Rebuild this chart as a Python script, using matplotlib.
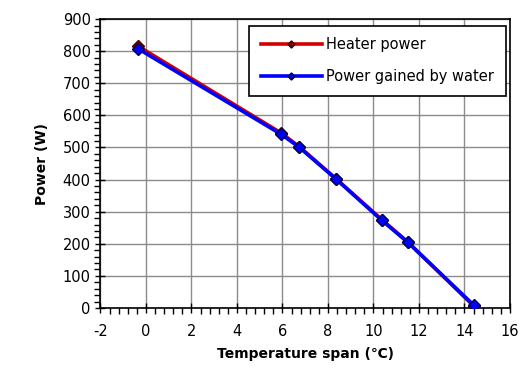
import matplotlib
matplotlib.use("Agg")
import matplotlib.pyplot as plt
from matplotlib.ticker import MultipleLocator

# Data
temp_span = [-0.35, 5.95, 6.75, 8.35, 10.37, 11.52, 14.42]
heater_power = [816, 545, 502, 403, 275, 205, 5]
water_power = [808, 541, 500, 402, 273, 204, 8]

x_ticks = [-2, 0, 2, 4, 6, 8, 10, 12, 14, 16]
y_ticks = [0, 100, 200, 300, 400, 500, 600, 700, 800, 900]

plt.rcParams['font.family'] = ['DejaVu Sans']
plt.rcParams['axes.unicode_minus'] = False

fig = plt.figure(figsize=(5.23, 3.83), dpi=100)
ax = fig.add_axes([0.192, 0.196, 0.783, 0.754])

ax.plot(temp_span, heater_power, color="#d40000", lw=2.6, marker="D", ms=6,
        mfc="#8b0000", mec="#400000", label="Heater power", zorder=3)
ax.plot(temp_span, water_power, color="#0000ff", lw=2.6, marker="D", ms=6,
        mfc="#0000ff", mec="#000050", label="Power gained by water", zorder=4)

ax.set_xlim(-2, 16)
ax.set_ylim(0, 900)
ax.set_xticks(x_ticks)
ax.set_yticks(y_ticks)
ax.xaxis.set_minor_locator(MultipleLocator(0.4))
ax.yaxis.set_minor_locator(MultipleLocator(20))
ax.tick_params(which="major", direction="inout", length=7, width=1, labelsize=10.5)
ax.tick_params(which="minor", direction="out", length=4, width=1)
ax.tick_params(axis="x", pad=8)
ax.grid(True, which="major", color="#8c8c8c", lw=1)
ax.set_axisbelow(True)
for s in ax.spines.values():
    s.set_color("black")
    s.set_linewidth(1.2)

ax.set_xlabel("Temperature span (℃)", fontsize=10, fontweight="bold", labelpad=6)
ax.set_ylabel("Power (W)", fontsize=10, fontweight="bold", labelpad=10)

leg = ax.legend(loc="upper right", bbox_to_anchor=(0.99, 0.978), fontsize=10.5,
                fancybox=False, framealpha=1, edgecolor="black",
                markerscale=0.6, handlelength=4.2, handletextpad=0.3,
                labelspacing=1.15, borderpad=0.8, borderaxespad=0)
leg.get_frame().set_linewidth(1.2)

fig.savefig("out.png", dpi=100)
